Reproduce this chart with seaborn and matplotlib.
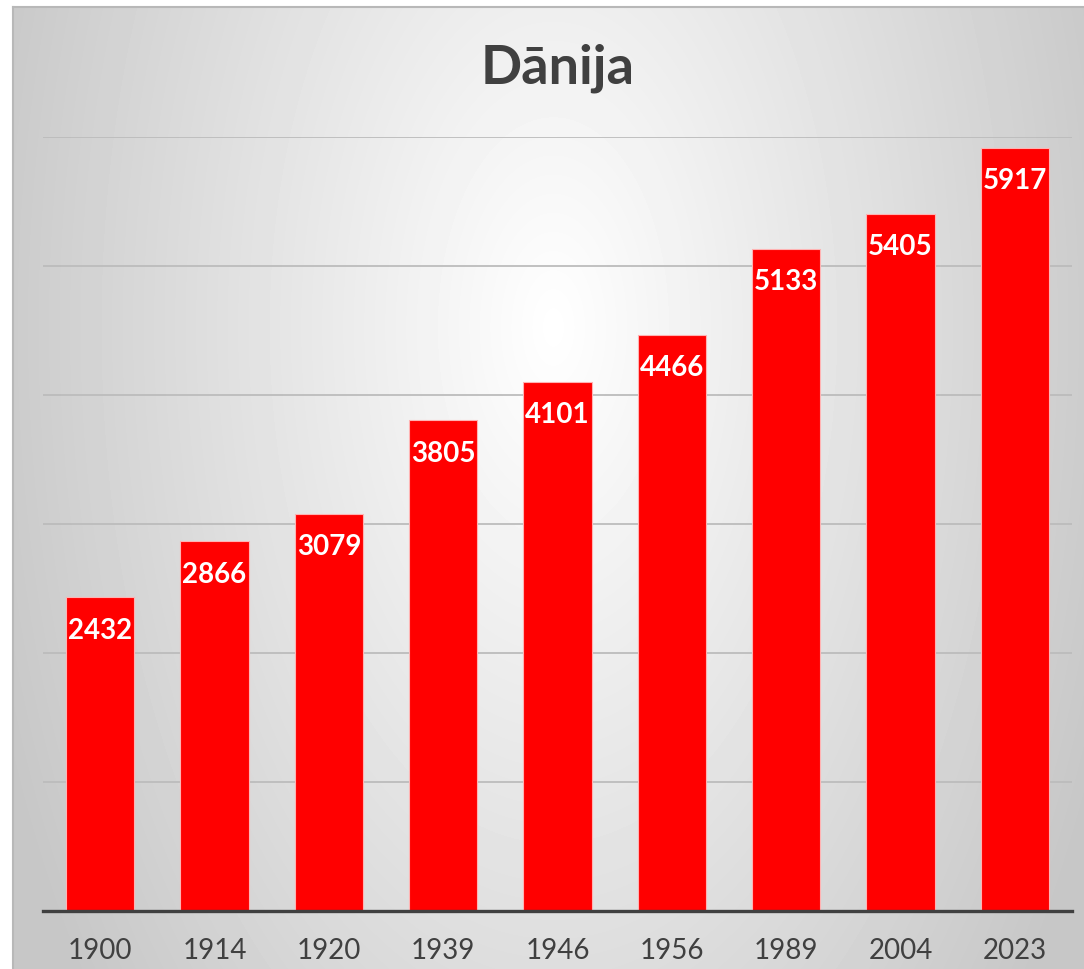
import matplotlib
matplotlib.use("Agg")
import matplotlib.pyplot as plt
import numpy as np
import seaborn as sns

# data
years = ["1900", "1914", "1920", "1939", "1946", "1956", "1989", "2004", "2023"]
values = [2432, 2866, 3079, 3805, 4101, 4466, 5133, 5405, 5917]
title = "Dānija"

sns.set_style("white")
plt.rcParams["font.family"] = ["Lato", "DejaVu Sans"]

W, H = 1084, 970
fig = plt.figure(figsize=(W / 100, H / 100), dpi=100)
fig.patch.set_facecolor("white")

# chart area background with radial gradient
bg = fig.add_axes([13 / W, 0, 1 - 13 / W, (H - 8) / H])
bw, bh = W - 13, H - 8
yy, xx = np.mgrid[0:bh, 0:bw]
r = np.sqrt((xx - 540) ** 2 + ((yy - 320) * 0.55) ** 2)
grad = np.clip(1 - 0.21 * (r / 565), 0.78, 1.0)
bg.imshow(grad, cmap="gray", vmin=0, vmax=1, aspect="auto", interpolation="bilinear")
bg.set_xticks([])
bg.set_yticks([])
for side, s in bg.spines.items():
    s.set_color("#b8b8b8")
    s.set_linewidth(1.5)
    if side in ("bottom", "right"):
        s.set_visible(False)
bg.set_zorder(0)

ax = fig.add_axes([43 / W, 58 / H, (1072 - 43) / W, (912 - 138) / H])
ax.set_zorder(1)
ax.patch.set_alpha(0)

sns.barplot(x=years, y=values, color="#ff0000", width=0.6, saturation=1,
            edgecolor="#ffb3b3", linewidth=0.8, ax=ax, zorder=3)

ax.set_ylim(0, 6000)
ax.set_xlim(-0.5, len(years) - 0.5)
ax.set_yticks(range(0, 6001, 1000))
ax.yaxis.grid(True, color="#bcbcbc", linewidth=1.3, zorder=0)
ax.set_axisbelow(True)
ax.set_yticklabels([])
ax.tick_params(axis="y", length=0)
ax.tick_params(axis="x", length=0, pad=19, labelsize=20, labelcolor="#404040")
ax.set_xlabel("")
ax.set_ylabel("")
for side in ["top", "left", "right"]:
    ax.spines[side].set_visible(False)
ax.spines["bottom"].set_color("#404040")
ax.spines["bottom"].set_linewidth(2.4)
ax.spines["bottom"].set_zorder(4)

for i, v in enumerate(values):
    ax.annotate(str(v), (i, v), xytext=(0, -14), textcoords="offset points",
                ha="center", va="top", color="white", fontsize=20,
                fontweight="bold", zorder=5)

fig.text(558 / W, 1 - 68 / H, title, ha="center", va="center",
         fontsize=39, fontweight="bold", color="#404040")

fig.savefig("out.png", dpi=100, facecolor="white")
